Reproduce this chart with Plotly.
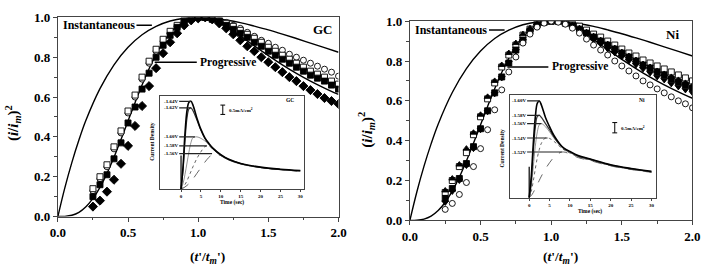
import plotly.graph_objects as go

# ---------------- data ----------------
# theoretical curves
inst_x = [0, 0.05, 0.1, 0.15, 0.2, 0.3, 0.4, 0.5, 0.6, 0.7, 0.8, 0.9, 1.0, 1.1, 1.2, 1.3, 1.4, 1.5, 1.6, 1.7, 1.8, 1.9, 2.0]
inst_y = [0, 0.145, 0.272, 0.384, 0.483, 0.642, 0.762, 0.850, 0.913, 0.955, 0.982, 0.996, 1.0, 0.996, 0.987, 0.974, 0.956, 0.937, 0.916, 0.894, 0.871, 0.848, 0.825]
prog_x = [0, 0.05, 0.1, 0.15, 0.2, 0.25, 0.3, 0.35, 0.4, 0.45, 0.5, 0.55, 0.6, 0.65, 0.7, 0.75, 0.8, 0.85, 0.9, 0.95, 1.0, 1.05, 1.1,
          1.2, 1.3, 1.4, 1.5, 1.6, 1.7, 1.8, 1.9, 2.0]
prog_y = [0, 0.001, 0.0065, 0.021, 0.049, 0.091, 0.147, 0.217, 0.298, 0.387, 0.480, 0.572, 0.661, 0.742, 0.814, 0.874, 0.922, 0.958,
          0.982, 0.996, 1.0, 0.996, 0.986, 0.952, 0.907, 0.857, 0.808, 0.762, 0.719, 0.680, 0.645, 0.613]

# experimental points
xs = [0.25, 0.30, 0.35, 0.40, 0.45, 0.50, 0.55, 0.60, 0.65, 0.70, 0.75, 0.80, 0.85, 0.90, 0.95, 1.00, 1.05, 1.10,
      1.15, 1.20, 1.25, 1.30, 1.35, 1.40, 1.45, 1.50, 1.55, 1.60, 1.65, 1.70, 1.75, 1.80, 1.85, 1.90, 1.95, 2.00]

gc_open_circ = [0.13, 0.19, 0.25, 0.34, 0.42, 0.52, 0.60, 0.69, 0.77, 0.83, 0.88, 0.92, 0.955, 0.98, 0.995, 1.0, 1.0, 0.995,
                0.985, 0.975, 0.96, 0.945, 0.925, 0.905, 0.885, 0.87, 0.85, 0.835, 0.815, 0.80, 0.785, 0.77, 0.755, 0.74, 0.725, 0.705]
gc_open_sq = [0.14, 0.20, 0.26, 0.35, 0.43, 0.53, 0.61, 0.70, 0.78, 0.84, 0.89, 0.93, 0.96, 0.985, 0.995, 1.0, 1.0, 0.995,
              0.985, 0.97, 0.955, 0.935, 0.915, 0.895, 0.875, 0.85, 0.83, 0.81, 0.79, 0.77, 0.75, 0.73, 0.715, 0.70, 0.68, 0.665]
gc_fill_sq = [0.10, 0.16, 0.21, 0.29, 0.37, 0.47, 0.55, 0.64, 0.72, 0.80, 0.86, 0.91, 0.95, 0.98, 0.995, 1.0, 1.0, 0.99,
              0.98, 0.96, 0.94, 0.92, 0.90, 0.875, 0.855, 0.83, 0.81, 0.79, 0.77, 0.75, 0.73, 0.71, 0.695, 0.68, 0.66, 0.64]
gc_diamond = [0.05, 0.08, 0.125, 0.185, 0.265, 0.355, 0.455, 0.555, 0.655, 0.745, 0.82, 0.875, 0.92, 0.96, 0.985, 0.995, 1.0, 0.99,
              0.97, 0.945, 0.915, 0.885, 0.855, 0.83, 0.80, 0.775, 0.75, 0.725, 0.70, 0.68, 0.655, 0.635, 0.615, 0.595, 0.58, 0.565]

ni_open_sq = [0.14, 0.20, 0.27, 0.34, 0.43, 0.52, 0.61, 0.69, 0.77, 0.83, 0.88, 0.93, 0.96, 0.985, 0.995, 1.0, 1.0, 0.995,
              0.985, 0.975, 0.955, 0.935, 0.92, 0.90, 0.88, 0.86, 0.84, 0.825, 0.805, 0.79, 0.775, 0.76, 0.745, 0.73, 0.715, 0.70]
ni_tri_up = [0.15, 0.21, 0.28, 0.36, 0.44, 0.53, 0.62, 0.70, 0.78, 0.84, 0.89, 0.935, 0.965, 0.99, 1.0, 1.0, 1.0, 0.99,
             0.98, 0.965, 0.945, 0.925, 0.905, 0.885, 0.865, 0.845, 0.825, 0.805, 0.785, 0.77, 0.75, 0.735, 0.72, 0.705, 0.69, 0.675]
ni_fill_sq = [0.11, 0.16, 0.21, 0.285, 0.37, 0.46, 0.55, 0.64, 0.72, 0.79, 0.855, 0.905, 0.95, 0.98, 0.995, 1.0, 1.0, 0.99,
              0.98, 0.96, 0.94, 0.92, 0.90, 0.88, 0.86, 0.84, 0.82, 0.80, 0.78, 0.765, 0.745, 0.73, 0.71, 0.695, 0.68, 0.665]
ni_tri_down = [0.09, 0.145, 0.20, 0.275, 0.36, 0.455, 0.545, 0.635, 0.715, 0.79, 0.85, 0.90, 0.945, 0.975, 0.995, 1.0, 0.995, 0.985,
               0.97, 0.95, 0.93, 0.905, 0.885, 0.86, 0.84, 0.82, 0.80, 0.78, 0.76, 0.74, 0.72, 0.705, 0.685, 0.67, 0.655, 0.64]
ni_open_circ = [0.055, 0.085, 0.13, 0.19, 0.27, 0.36, 0.455, 0.555, 0.655, 0.745, 0.82, 0.89, 0.935, 0.97, 0.99, 1.0, 0.995, 0.985,
                0.965, 0.94, 0.91, 0.88, 0.855, 0.83, 0.80, 0.775, 0.75, 0.725, 0.70, 0.68, 0.66, 0.64, 0.62, 0.60, 0.585, 0.565]

# inset current transients (arbitrary mA/cm^2 units)
gc_t = [0, 0.5, 1, 1.5, 2, 2.5, 3, 4, 5, 6, 7, 8, 10, 12, 15, 20, 25, 30]
gc_labels = ["-1.64V", "-1.62V", "-1.60V", "-1.58V", "-1.56V"]
gc_curves = [
    [0, 1.2, 3.0, 4.2, 4.65, 4.7, 4.5, 3.8, 3.2, 2.75, 2.45, 2.2, 1.85, 1.6, 1.38, 1.18, 1.07, 1.0],
    [0, 1.0, 2.6, 3.8, 4.3, 4.35, 4.2, 3.7, 3.15, 2.72, 2.42, 2.18, 1.82, 1.58, 1.36, 1.16, 1.05, 0.98],
    [0, 0.3, 0.8, 1.4, 2.0, 2.5, 2.75, 2.8, 2.72, 2.58, 2.38, 2.15, 1.8, 1.56, 1.34, 1.15, 1.04, 0.97],
    [0, 0.1, 0.25, 0.45, 0.7, 0.95, 1.2, 1.65, 2.0, 2.28, 2.3, 2.15, 1.85, 1.6, 1.37, 1.16, 1.05, 0.97],
    [0, 0.05, 0.12, 0.2, 0.3, 0.42, 0.55, 0.85, 1.15, 1.45, 1.7, 1.88, 1.8, 1.6, 1.38, 1.17, 1.05, 0.96],
]
gc_peak_t = [2.5, 2.5, 3.5, 6.5, 7.8]
gc_peak_y = [4.7, 4.35, 2.8, 2.32, 1.9]

ni_t = [0, 0.5, 1, 1.5, 2, 2.5, 3, 4, 5, 6, 7, 8, 9, 10, 12, 15, 20, 25, 30]
ni_labels = ["-1.60V", "-1.58V", "-1.56V", "-1.54V", "-1.52V"]
ni_curves = [
    [0, 1.0, 2.6, 3.9, 4.6, 4.7, 4.5, 3.9, 3.45, 3.05, 2.75, 2.5, 2.35, 2.25, 2.05, 1.88, 1.6, 1.42, 1.28],
    [0, 0.8, 2.2, 3.4, 3.95, 4.0, 3.9, 3.6, 3.3, 2.98, 2.7, 2.48, 2.32, 2.22, 2.02, 1.86, 1.58, 1.40, 1.26],
    [0, 0.5, 1.5, 2.5, 3.2, 3.55, 3.6, 3.45, 3.2, 2.92, 2.66, 2.45, 2.3, 2.2, 2.0, 1.84, 1.57, 1.39, 1.25],
    [0, 0.3, 0.8, 1.4, 1.95, 2.35, 2.65, 2.9, 2.88, 2.75, 2.58, 2.4, 2.27, 2.17, 1.98, 1.82, 1.56, 1.38, 1.24],
    [0, 0.1, 0.25, 0.45, 0.65, 0.85, 1.05, 1.4, 1.7, 1.95, 2.12, 2.22, 2.2, 2.12, 1.95, 1.8, 1.54, 1.37, 1.23],
]
ni_peak_t = [2.5, 2.6, 3.0, 4.5, 8.0]
ni_peak_y = [4.7, 4.0, 3.6, 2.9, 2.22]

inset_ticks = [0, 5, 10, 15, 20, 25, 30]
spike_t = [0, 0]
gc_spike_y = [0, 1.8]
ni_spike_y = [0, 1.5]

# ---------------- figure ----------------
W, H = 722, 268
SERIF = "Liberation Serif"
FRAME = "#444444"


def px_x(p):
    return p / W


def px_y(p):
    return 1 - p / H


fig = go.Figure()

panels = [
    dict(xa="x", ya="y",
         series=[(gc_open_circ, "circle", "white"), (gc_open_sq, "square", "white"),
                 (gc_fill_sq, "square", "black"), (gc_diamond, "diamond", "black")]),
    dict(xa="x2", ya="y2",
         series=[(ni_open_sq, "square", "white"), (ni_tri_up, "triangle-up", "black"),
                 (ni_fill_sq, "square", "black"), (ni_tri_down, "triangle-down", "black"),
                 (ni_open_circ, "circle", "white")]),
]

for p in panels:
    fig.add_trace(go.Scatter(x=inst_x, y=inst_y, mode="lines", line=dict(color="black", width=1.4, shape="spline"),
                             xaxis=p["xa"], yaxis=p["ya"], showlegend=False))
    fig.add_trace(go.Scatter(x=prog_x, y=prog_y, mode="lines", line=dict(color="black", width=1.4, shape="spline"),
                             xaxis=p["xa"], yaxis=p["ya"], showlegend=False))
    for vals, sym, col in p["series"]:
        sz = 7 if sym == "diamond" else 6
        fig.add_trace(go.Scatter(x=xs, y=vals, mode="markers",
                                 marker=dict(symbol=sym, size=sz, color=col,
                                             line=dict(color="black", width=0.9)),
                                 xaxis=p["xa"], yaxis=p["ya"], showlegend=False))

# inset curves
styles = [dict(color="black", width=1.6, dash="solid"),
          dict(color="#333333", width=1.2, dash="solid"),
          dict(color="#777777", width=0.8, dash="solid"),
          dict(color="#555555", width=0.9, dash="dot"),
          dict(color="#555555", width=0.9, dash="dash")]
for tt, curves, spike, xr, yr in [(gc_t, gc_curves, gc_spike_y, "x3", "y3"), (ni_t, ni_curves, ni_spike_y, "x4", "y4")]:
    for c, st in zip(curves[::-1], styles[::-1]):
        fig.add_trace(go.Scatter(x=tt, y=c, mode="lines", line=dict(st, shape="spline"),
                                 xaxis=xr, yaxis=yr, showlegend=False))
    fig.add_trace(go.Scatter(x=spike_t, y=spike, mode="lines", line=dict(color="black", width=1.2),
                             xaxis=xr, yaxis=yr, showlegend=False))

main_tick = dict(family=SERIF, size=13, color="black", weight="bold")
common_main = dict(showline=True, linecolor=FRAME, linewidth=1, mirror=True, ticks="outside", ticklen=4,
                   tickcolor=FRAME, tickfont=main_tick, showgrid=False, zeroline=False, tickformat=".1f")

fig.update_layout(
    width=W, height=H, margin=dict(l=0, r=0, t=0, b=0),
    paper_bgcolor="white", plot_bgcolor="white", showlegend=False,
    font=dict(family=SERIF),
    xaxis=dict(common_main, domain=[px_x(51), px_x(338)], range=[0, 2], dtick=0.5, anchor="y",
               minor=dict(dtick=0.25, ticks="outside", ticklen=2.5, tickcolor=FRAME)),
    yaxis=dict(common_main, domain=[px_y(222), px_y(11)], range=[0, 1], dtick=0.2, anchor="x",
               minor=dict(dtick=0.1, ticks="outside", ticklen=2.5, tickcolor=FRAME)),
    xaxis2=dict(common_main, domain=[px_x(411), px_x(700)], range=[0, 2], dtick=0.5, anchor="y2",
                minor=dict(dtick=0.25, ticks="outside", ticklen=2.5, tickcolor=FRAME)),
    yaxis2=dict(common_main, domain=[px_y(226), px_y(15)], range=[0, 1], dtick=0.2, anchor="x2",
                minor=dict(dtick=0.1, ticks="outside", ticklen=2.5, tickcolor=FRAME)),
)

inset_tick = dict(family=SERIF, size=5, color="black", weight="bold")
common_inset = dict(showline=True, linecolor=FRAME, linewidth=0.8, mirror=True, showgrid=False, zeroline=False)
fig.update_layout(
    xaxis3=dict(common_inset, domain=[px_x(155), px_x(303)], range=[-5.4, 31.0], tickvals=inset_ticks,
                ticks="outside", ticklen=2, tickfont=inset_tick, anchor="y3"),
    yaxis3=dict(common_inset, domain=[px_y(193), px_y(94)], range=[0, 5.0], showticklabels=False, ticks="", anchor="x3"),
    xaxis4=dict(common_inset, domain=[px_x(513), px_x(663)], range=[-4.8, 31.2], tickvals=inset_ticks,
                ticks="outside", ticklen=2, tickfont=inset_tick, anchor="y4"),
    yaxis4=dict(common_inset, domain=[px_y(202), px_y(93)], range=[0, 5.0], showticklabels=False, ticks="", anchor="x4"),
)

ann = []
shapes = []
lab_font = dict(family=SERIF, size=12, color="black")

# Instantaneous / Progressive labels and pointer lines (data coords of each main panel)
for xa, ya, inst_y_, prog_x0, prog_x1, prog_y_, name, name_x, name_y in [
        ("x", "y", 0.96, 0.69, 0.99, 0.775, "GC", 1.89, 0.94),
        ("x2", "y2", 0.955, 0.69, 0.98, 0.77, "Ni", 1.855, 0.935)]:
    ann.append(dict(x=0.02, y=inst_y_, xref=xa, yref=ya, text="<b>Instantaneous</b>", showarrow=False,
                    xanchor="left", yanchor="middle", font=lab_font))
    shapes.append(dict(type="line", xref=xa, yref=ya, x0=0.56, x1=0.67, y0=inst_y_, y1=inst_y_,
                       line=dict(color="black", width=1.5)))
    ann.append(dict(x=prog_x1 + 0.01, y=prog_y_, xref=xa, yref=ya, text="<b>Progressive</b>", showarrow=False,
                    xanchor="left", yanchor="middle", font=dict(family=SERIF, size=11.5, color="black")))
    shapes.append(dict(type="line", xref=xa, yref=ya, x0=prog_x0, x1=prog_x1, y0=prog_y_, y1=prog_y_,
                       line=dict(color="black", width=1.5)))
    ann.append(dict(x=name_x, y=name_y, xref=xa, yref=ya, text="<b>" + name + "</b>", showarrow=False,
                    xanchor="center", yanchor="middle", font=dict(family=SERIF, size=13, color="black")))

# axis titles
ytitle = "<b>(<i>i</i>/<i>i</i><sub><i>m</i></sub>)<sup>2</sup></b>"
xtitle = "<b>(<i>t</i>'/<i>t</i><sub><i>m</i></sub>')</b>"
for xc, yc in [(2, 123), (363, 130)]:
    ann.append(dict(x=px_x(xc), y=px_y(yc), xref="paper", yref="paper", text=ytitle, textangle=-90, showarrow=False,
                    xanchor="left", yanchor="middle", xshift=-9, font=dict(family=SERIF, size=15, color="black")))
for xc in [204, 565]:
    ann.append(dict(x=px_x(xc), y=0, xref="paper", yref="paper", text=xtitle, showarrow=False,
                    xanchor="center", yanchor="bottom", yshift=-8, font=dict(family=SERIF, size=13.5, color="black")))

# inset texts
tiny = dict(family=SERIF, size=5, color="black")
small = dict(family=SERIF, size=5.5, color="black")
for xr, yr, labels, pts, pys, name, bar_t, bar_y0, tcx, tcy, cdx, cdy in [
        ("x3", "y3", gc_labels, gc_peak_t, gc_peak_y, "GC", 10.5, 4.0, 229, 207, 147, 143),
        ("x4", "y4", ni_labels, ni_peak_t, ni_peak_y, "Ni", 21.0, 3.15, 595, 217, 505, 150)]:
    for lab, pt, py in zip(labels, pts, pys):
        ann.append(dict(x=pt, y=py, xref=xr, yref=yr, ax=-2.6, ay=py, axref=xr, ayref=yr, text="<b>" + lab + "</b>",
                        showarrow=True, arrowhead=0, arrowwidth=1.2, arrowcolor="#222222", font=tiny,
                        standoff=0, startstandoff=0))
    ann.append(dict(x=29, y=4.75, xref=xr, yref=yr, text="<b>" + name + "</b>", showarrow=False,
                    xanchor="right", yanchor="middle", font=small))
    shapes.append(dict(type="line", xref=xr, yref=yr, x0=bar_t, x1=bar_t, y0=bar_y0, y1=bar_y0 + 0.5,
                       line=dict(color="black", width=1)))
    for yy in (bar_y0, bar_y0 + 0.5):
        shapes.append(dict(type="line", xref=xr, yref=yr, x0=bar_t - 0.6, x1=bar_t + 0.6, y0=yy, y1=yy,
                           line=dict(color="black", width=1)))
    ann.append(dict(x=bar_t + 1.0, y=bar_y0 + 0.25, xref=xr, yref=yr, text="<b>0.5mA/cm<sup>2</sup></b>",
                    showarrow=False, xanchor="left", yanchor="middle", font=tiny))
    ann.append(dict(x=px_x(tcx), y=px_y(tcy), xref="paper", yref="paper", text="<b>Time (sec)</b>", showarrow=False,
                    xanchor="center", yanchor="middle", font=small))
    ann.append(dict(x=px_x(cdx), y=px_y(cdy), xref="paper", yref="paper", text="<b>Current Density</b>",
                    textangle=-90, showarrow=False, xanchor="center", yanchor="middle", font=small))

fig.update_layout(annotations=ann, shapes=shapes)
fig.write_html("out.html")
